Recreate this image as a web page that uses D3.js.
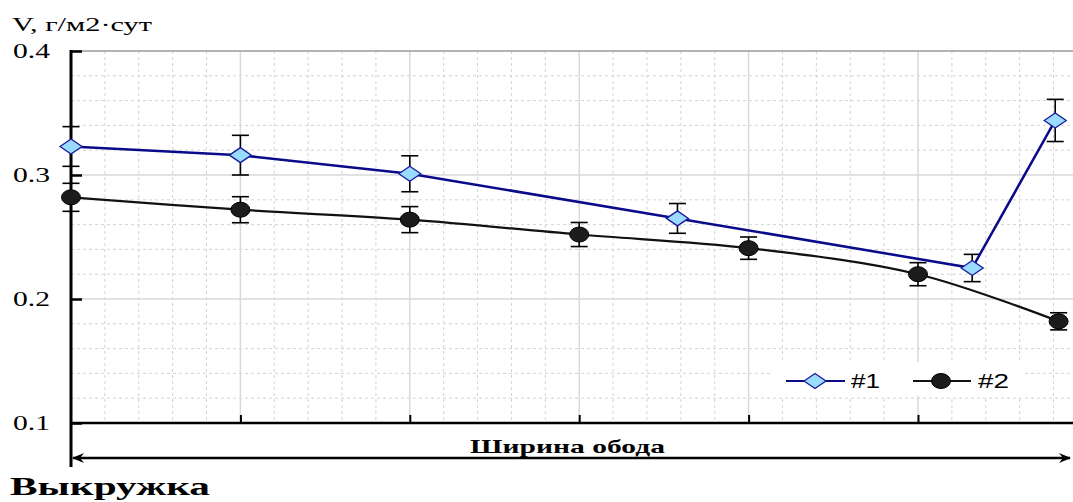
<!DOCTYPE html>
<html><head><meta charset="utf-8">
<script src="https://cdn.jsdelivr.net/npm/d3@7"></script>
<style>body{margin:0;background:#fff;} svg{display:block;}</style>
</head><body>
<script>
// ---- data ----
const yTicks = [0.1, 0.2, 0.3, 0.4];
const yTickLabels = ["0.1", "0.2", "0.3", "0.4"];
const xMajor = [1, 2, 3, 4, 5];
const s1Name = "#1";
const s1X = [0, 1, 2, 3.58, 5.32, 5.81];
const s1Y = [0.323, 0.316, 0.301, 0.265, 0.225, 0.344];
const s1Err = [0.016, 0.016, 0.0145, 0.012, 0.011, 0.017];
const s2Name = "#2";
const s2X = [0, 1, 2, 3, 4, 5, 5.83];
const s2Y = [0.282, 0.272, 0.264, 0.252, 0.241, 0.220, 0.182];
const s2Err = [0.0113, 0.0105, 0.0105, 0.0097, 0.009, 0.0093, 0.0069];
const yTitle = "V, г/м2·сут";
const xTitle = "Ширина обода";
const bottomTitle = "Выкружка";

const W = 1073, H = 502;
const L = 71, T = 51, B = 423;
const SERIF = "Liberation Serif, Times New Roman, serif";
const SANS = "Liberation Sans, Arial, sans-serif";
const svg = d3.select("body").append("svg").attr("width", W).attr("height", H);

const x = d3.scaleLinear().domain([0, 6]).range([L, L + 6 * 169.4]);
const y = d3.scaleLinear().domain([0.1, 0.4]).range([B, T]);

const grid = svg.append("g");
const xMinor = d3.range(0, 30).map(i => i * 0.2).filter(v => Math.abs(v - Math.round(v)) > 1e-6);
const yMinor = d3.range(0, 16).map(i => 0.1 + i * 0.02).filter(v => Math.abs(v * 10 - Math.round(v * 10)) > 1e-6);
grid.selectAll(".vx").data(xMinor).join("line")
  .attr("x1", d => x(d)).attr("x2", d => x(d)).attr("y1", T).attr("y2", B)
  .attr("stroke", "#d4d4d4").attr("stroke-width", 1).attr("stroke-dasharray", "3,3");
grid.selectAll(".hy").data(yMinor).join("line")
  .attr("x1", L).attr("x2", W).attr("y1", d => y(d)).attr("y2", d => y(d))
  .attr("stroke", "#d4d4d4").attr("stroke-width", 1).attr("stroke-dasharray", "3,3");
grid.selectAll(".vX").data(xMajor).join("line")
  .attr("x1", d => x(d)).attr("x2", d => x(d)).attr("y1", T).attr("y2", B)
  .attr("stroke", "#d9d9d9").attr("stroke-width", 1.5);
grid.selectAll(".hY").data([0.2, 0.3]).join("line")
  .attr("x1", L).attr("x2", W).attr("y1", d => y(d)).attr("y2", d => y(d))
  .attr("stroke", "#d9d9d9").attr("stroke-width", 1.5);
grid.append("line").attr("x1", L).attr("x2", W).attr("y1", y(0.4)).attr("y2", y(0.4))
  .attr("stroke", "#9a9a9a").attr("stroke-width", 1.5);

// legend background
svg.append("rect").attr("x", 770).attr("y", 362).attr("width", 252).attr("height", 34).attr("fill", "#fff");

// axes
const yAxis = d3.axisLeft(y).tickValues(yTicks).tickFormat((d, i) => yTickLabels[i]).tickSizeInner(-11).tickSizeOuter(0).tickPadding(21);
const gy = svg.append("g").attr("transform", `translate(${L},0)`).call(yAxis);
gy.select(".domain").remove();
gy.selectAll(".tick line").attr("stroke", "#000").attr("stroke-width", 2.5);
gy.selectAll(".tick text").attr("font-family", SERIF).attr("font-size", 20).attr("fill", "#000")
  .attr("textLength", 37).attr("lengthAdjust", "spacingAndGlyphs");

const xAxis = d3.axisBottom(x).tickValues(xMajor).tickFormat("").tickSizeInner(-8).tickSizeOuter(0);
const gx = svg.append("g").attr("transform", `translate(0,${B})`).call(xAxis);
gx.select(".domain").remove();
gx.selectAll(".tick line").attr("stroke", "#000").attr("stroke-width", 2);
svg.append("line").attr("x1", L).attr("x2", W).attr("y1", B).attr("y2", B).attr("stroke", "#000").attr("stroke-width", 2.5);
svg.append("line").attr("x1", L).attr("x2", L).attr("y1", T - 1).attr("y2", 467).attr("stroke", "#000").attr("stroke-width", 3);

// arrow line
const defs = svg.append("defs");
defs.append("marker").attr("id", "ah").attr("viewBox", "0 0 12 10").attr("refX", 11).attr("refY", 5)
  .attr("markerWidth", 12).attr("markerHeight", 10).attr("markerUnits", "userSpaceOnUse").attr("orient", "auto-start-reverse")
  .append("path").attr("d", "M0,0 L12,5 L0,10 L4,5 Z").attr("fill", "#000");
svg.append("line").attr("x1", L + 2).attr("x2", W - 3).attr("y1", 458).attr("y2", 458)
  .attr("stroke", "#000").attr("stroke-width", 2.5)
  .attr("marker-start", "url(#ah)").attr("marker-end", "url(#ah)");

// titles
svg.append("text").attr("x", 12).attr("y", 31).text(yTitle)
  .attr("font-family", SERIF).attr("font-size", 18).attr("fill", "#000")
  .attr("textLength", 140).attr("lengthAdjust", "spacingAndGlyphs");
svg.append("text").attr("x", 470).attr("y", 453).text(xTitle)
  .attr("font-family", SERIF).attr("font-weight", "bold").attr("font-size", 19).attr("fill", "#000")
  .attr("textLength", 195).attr("lengthAdjust", "spacingAndGlyphs");
svg.append("text").attr("x", 10).attr("y", 495).text(bottomTitle)
  .attr("font-family", SERIF).attr("font-weight", "bold").attr("font-size", 26).attr("fill", "#000")
  .attr("textLength", 200).attr("lengthAdjust", "spacingAndGlyphs");

// series
const d1 = s1X.map((v, i) => ({x: v, y: s1Y[i], e: s1Err[i]}));
const d2 = s2X.map((v, i) => ({x: v, y: s2Y[i], e: s2Err[i]}));

function errBars(data) {
  const g = svg.append("g").attr("stroke", "#000").attr("stroke-width", 1.6);
  data.forEach(d => {
    g.append("line").attr("x1", x(d.x)).attr("x2", x(d.x)).attr("y1", y(d.y - d.e)).attr("y2", y(d.y + d.e));
    [d.y - d.e, d.y + d.e].forEach(v => g.append("line").attr("x1", x(d.x) - 8.5).attr("x2", x(d.x) + 8.5).attr("y1", y(v)).attr("y2", y(v)));
  });
}
errBars(d2);
errBars(d1);

const line2 = d3.line().x(d => x(d.x)).y(d => y(d.y)).curve(d3.curveCatmullRom.alpha(0.5));
svg.append("path").datum(d2).attr("d", line2).attr("fill", "none").attr("stroke", "#111").attr("stroke-width", 2.2);
const line1 = d3.line().x(d => x(d.x)).y(d => y(d.y));
svg.append("path").datum(d1).attr("d", line1).attr("fill", "none").attr("stroke", "#0a0a8a").attr("stroke-width", 2.5);

function diamond(g, cx, cy) {
  g.append("path").attr("d", `M${cx - 11},${cy} L${cx},${cy - 7.5} L${cx + 11},${cy} L${cx},${cy + 7.5} Z`)
    .attr("fill", "#99dcff").attr("stroke", "#1a1a9a").attr("stroke-width", 1.3);
}
function dot(g, cx, cy) {
  g.append("ellipse").attr("cx", cx).attr("cy", cy).attr("rx", 9.5).attr("ry", 7.5)
    .attr("fill", "#1c1c1c").attr("stroke", "#000").attr("stroke-width", 1);
}
const m2 = svg.append("g");
d2.forEach(d => dot(m2, x(d.x), y(d.y)));
const m1 = svg.append("g");
d1.forEach(d => diamond(m1, x(d.x), y(d.y)));

// legend
const lg = svg.append("g");
lg.append("line").attr("x1", 786).attr("x2", 845).attr("y1", 381).attr("y2", 381).attr("stroke", "#0a0a8a").attr("stroke-width", 2);
diamond(lg, 815, 381);
lg.append("text").attr("x", 851).attr("y", 388).text(s1Name).attr("font-family", SANS).attr("font-size", 20).attr("fill", "#000")
  .attr("textLength", 29).attr("lengthAdjust", "spacingAndGlyphs");
lg.append("line").attr("x1", 913).attr("x2", 971).attr("y1", 381).attr("y2", 381).attr("stroke", "#111").attr("stroke-width", 2);
dot(lg, 941, 381);
lg.append("text").attr("x", 978).attr("y", 388).text(s2Name).attr("font-family", SANS).attr("font-size", 20).attr("fill", "#000")
  .attr("textLength", 31).attr("lengthAdjust", "spacingAndGlyphs");
</script>
</body></html>
